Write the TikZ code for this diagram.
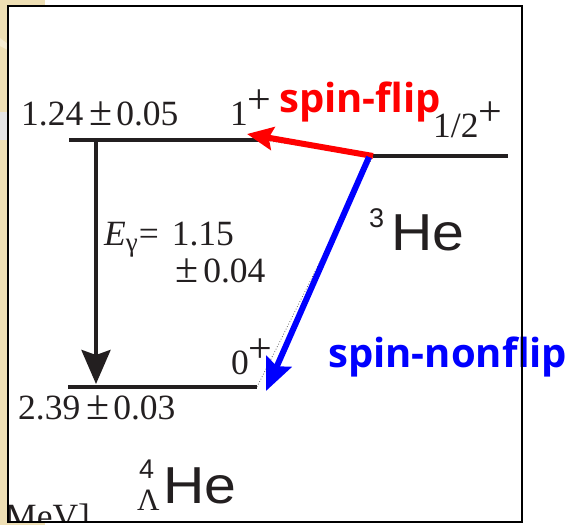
\documentclass[tikz,border=0pt]{standalone}
\usepackage{fontspec}
\setmainfont{Liberation Serif}
\newfontfamily\hesans{Liberation Sans}
\newfontfamily\spinsans{Open Sans}
\usetikzlibrary{arrows.meta}
\definecolor{beige}{HTML}{EEDFB4}
\definecolor{lvlcol}{HTML}{231F20}
\newcommand{\pmbig}{{\fontsize{42}{42}\selectfont ±}}
\newcommand{\supplus}{\raisebox{12pt}{\fontsize{42}{42}\selectfont +}}
\newcommand{\widehe}{\scalebox{1.1}[1]{He}}
\begin{document}
\begin{tikzpicture}[x=1pt,y=-1pt,
  lvl/.style={line width=4pt, draw=lvlcol},
  lbl/.style={inner sep=0pt, anchor=base west, text=lvlcol, font=\fontsize{35.5}{40}\selectfont},
  nuc/.style={inner sep=0pt, anchor=base west, text=lvlcol, font=\hesans\fontsize{52}{58}\selectfont},
  nucsup/.style={inner sep=0pt, anchor=base west, text=lvlcol, font=\hesans\fontsize{27}{30}\selectfont},
  spinlbl/.style={inner sep=0pt, anchor=base west, font=\spinsans\bfseries\fontsize{40}{44}\selectfont},
  dots/.style={draw=black!60, line width=0.8pt, dotted}
]
\useasboundingbox (0,0) rectangle (566,525);
\fill[white] (0,0) rectangle (566,525);
% beige background at the left
\fill[beige] (0,0) rectangle (8,525);
\fill[beige] (0,0) rectangle (45,6);
\fill[beige] (0,522) rectangle (45,525);
\fill[beige!60!white] (0,38) -- (8,44) -- (8,50) -- (0,46) -- cycle;
\fill[black!10] (0,112) rectangle (8,140);

% cut-off unit label
\begin{scope}
\clip (9,7) rectangle (521,521);
\node[lbl] (unit) at (5,528) {MeV]};
\end{scope}

% level coordinates
\coordinate (u1) at (69,140);
\coordinate (u2) at (262,140);
\coordinate (l1) at (68,387);
\coordinate (l2) at (257,387);
\coordinate (h1) at (373,156);
\coordinate (h2) at (508,156);
\coordinate (g1) at (96,140);
\coordinate (g2) at (96,384);

% dotted connections
\draw[dots] (u2) -- (h1);
\draw[dots] (l2) -- (h1);

% levels
\draw[lvl] (u1) -- (u2);
\draw[lvl] (l1) -- (l2);
\draw[lvl] (h1) -- (h2);

% gamma transition
\draw[line width=4pt, draw=lvlcol, -{Stealth[length=34pt,width=29pt,inset=5pt]}] (g1) -- (g2);

% labels
\node[lbl] (e1) at (21,125) {1.24\hspace{6pt}\pmbig\hspace{4pt}0.05};
\node[lbl] (j1) at (230,125) {1\supplus};
\node[lbl] (jh) at (433,137) {1/2\supplus};
\node[lbl] (eg) at (104,245) {\itshape E\upshape\raisebox{-6pt}{\fontsize{27}{27}\selectfont γ}\hspace{1pt}=\hspace{13pt}1.15};
\node[lbl] (eg2) at (175,282) {\pmbig\hspace{5pt}0.04};
\node[lbl] (j0) at (231,374) {0\supplus};
\node[lbl] (e0) at (18,419) {2.39\hspace{6pt}\pmbig\hspace{4pt}0.03};

\node[nucsup] (a3) at (369,227) {3};
\node[nuc] (he3) at (391,250) {\widehe};
\node[nucsup] (a4) at (139,478) {4};
\node[lbl] (lam) at (137,510) {\fontsize{31}{31}\selectfont Λ};
\node[nuc] (he4) at (163,503) {\widehe};

% transitions from 3He
\draw[line width=6pt, draw=red, -{Stealth[length=26pt,width=23pt,inset=4pt]}] (h1) -- (247,134);
\draw[line width=6pt, draw=blue, -{Stealth[length=32pt,width=27pt,inset=5pt]}] (369,157) -- (266,391);

\node[spinlbl, text=red] (sf) at (279,112) {spin-flip};
\node[spinlbl, text=blue] (snf) at (328,367) {spin-nonflip};

% frame
\draw[line width=2pt, draw=black] (8,6) rectangle (522,522);
\end{tikzpicture}
\end{document}
